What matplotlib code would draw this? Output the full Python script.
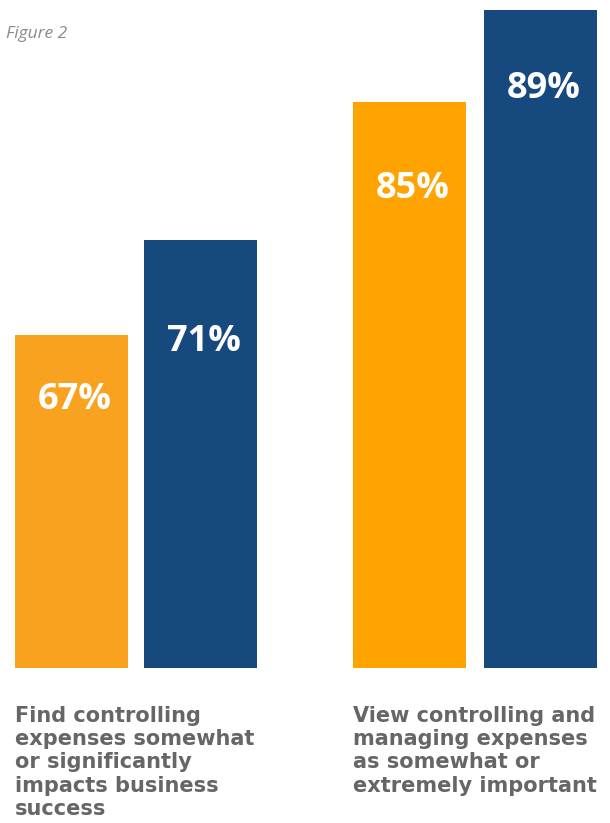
import matplotlib
matplotlib.use('Agg')
import matplotlib.pyplot as plt

# values shown on bars
labels = ['67%', '71%', '85%', '89%']
# bar heights as drawn in the picture (not to scale with the percentages)
heights = [333, 428, 566, 658]
groups = ['Find controlling\nexpenses somewhat\nor significantly\nimpacts business\nsuccess',
          'View controlling and\nmanaging expenses\nas somewhat or\nextremely important']

colors = ['#F8A21F', '#164A7E', '#FFA300', '#164A7E']
centers = [71.5, 200.5, 409.5, 540.5]
drop = [65, 102, 87, 79]

fig = plt.figure(figsize=(6.10, 8.23), dpi=100)
ax = fig.add_axes([0, 0, 1, 1])
ax.set_xlim(0, 610)
ax.set_ylim(-155, 668)
ax.axis('off')

ax.bar(centers, heights, width=113, color=colors, linewidth=0)

for x, h, lab, d in zip(centers, heights, labels, drop):
    ax.text(x + 3, h - d, lab, ha='center', va='center', color='white',
            fontsize=26, fontweight='bold', family=['Open Sans', 'DejaVu Sans'])

# category labels under each group
for x, g in zip([15, 353], groups):
    ax.text(x, -38, g, ha='left', va='top', color='#666666', fontsize=15,
            fontweight='bold', family=['DejaVu Sans'], linespacing=1.2)

fig.text(6 / 610, 1 - 34 / 823, 'Figure 2', ha='left', va='center', color='#8a8a8a',
         fontsize=12.5, style='italic', family=['Open Sans', 'DejaVu Sans'])

fig.savefig('out.png', dpi=100)
